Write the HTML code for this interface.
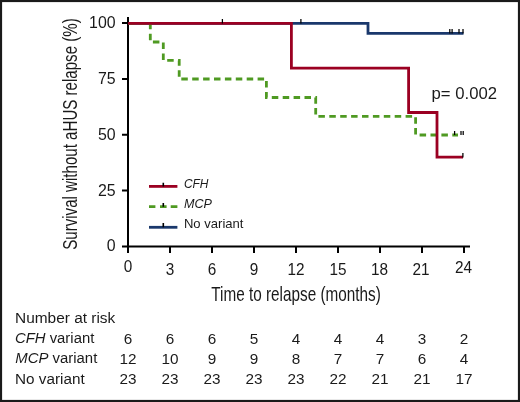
<!DOCTYPE html>
<html><head><meta charset="utf-8">
<style>
html,body{margin:0;padding:0;background:#fff;}
body{width:520px;height:402px;overflow:hidden;}
svg{display:block;will-change:transform;}
text{font-family:"Liberation Sans",sans-serif;fill:#1a1a1a;}
</style></head>
<body>
<svg width="520" height="402" viewBox="0 0 520 402">
<rect x="0" y="0" width="520" height="402" fill="#fff"/>
<rect x="1" y="1" width="518" height="400" fill="none" stroke="#1a1a1a" stroke-width="2.2"/>

<!-- y axis title -->
<text transform="translate(77.1,249.8) rotate(-90)" font-size="20" textLength="231.5" lengthAdjust="spacingAndGlyphs">Survival without aHUS relapse (%)</text>

<!-- y tick labels -->
<g font-size="15.9" text-anchor="end">
<text x="115.6" y="28.0">100</text>
<text x="115.6" y="83.8">75</text>
<text x="115.6" y="139.7">50</text>
<text x="115.6" y="195.5">25</text>
<text x="115.6" y="251.3">0</text>
</g>

<!-- axes -->
<g stroke="#000" stroke-width="2" fill="none">
<path d="M128,17V253"/>
<path d="M127,246.5H470"/>
<path d="M122,23H128M122,78.9H128M122,134.75H128M122,190.6H128M122,246.5H128"/>
<path d="M170,246.5V253M212,246.5V253M254,246.5V253M296,246.5V253M338,246.5V253M380,246.5V253M422,246.5V253M464,246.5V253"/>
</g>

<!-- x tick labels -->
<g font-size="16.5" text-anchor="middle">
<text transform="translate(128,272.2) scale(0.93,1)">0</text>
<text transform="translate(170,274.8) scale(0.93,1)">3</text>
<text transform="translate(212,274.8) scale(0.93,1)">6</text>
<text transform="translate(254,274.8) scale(0.93,1)">9</text>
<text transform="translate(296,274.6) scale(0.93,1)">12</text>
<text transform="translate(338,274.6) scale(0.93,1)">15</text>
<text transform="translate(379.6,274.6) scale(0.93,1)">18</text>
<text transform="translate(421.1,274.6) scale(0.93,1)">21</text>
<text transform="translate(463.6,272.7) scale(0.93,1)">24</text>
</g>

<!-- x axis title -->
<text x="211.3" y="301.1" font-size="19.8" textLength="169.5" lengthAdjust="spacingAndGlyphs">Time to relapse (months)</text>

<!-- curves -->
<g fill="none" stroke-width="2.8" stroke-linejoin="miter" stroke-linecap="butt">
<path stroke="#1a386c" d="M128,23.3H368V33.4H463.5"/>
<path stroke="#4f9a22" stroke-dasharray="6.5 4.4" d="M128,23.3H150.3V42H163.3V60.4H179.2V79H266.4V97.5H315.7V116.3H415.6V135H458"/>
<path stroke="#9b0022" d="M128,23.3H291.4V68.1H408.6V112.5H437V157.2H463"/>
</g>

<!-- censor ticks -->
<g stroke="#000" stroke-width="1.25">
<path d="M222.4,19V23.5M300.9,19V23.5"/>
<path d="M449.8,29V33.5M452.1,29V33.5M459,29V33.5M463,29V33.5"/>
<path d="M454.6,131V135M461,131V135M463.2,131V135"/>
<path d="M462.9,153V157.5"/>
</g>

<!-- p value -->
<text x="431.6" y="98.8" font-size="16.7">p= 0.002</text>

<!-- legend -->
<g fill="none" stroke-width="2.8">
<path stroke="#9b0022" d="M149,186.4H177.4"/>
<path stroke="#4f9a22" d="M149,206.7H155.4M160,206.7H166.6M170.7,206.7H177.4"/>
<path stroke="#1a386c" d="M149,227.3H177.4"/>
</g>
<g stroke="#000" stroke-width="1.6">
<path d="M163.3,182.8V186.5M163.3,203V206.7M163.3,223V227.3"/>
</g>
<g font-size="12.6">
<text x="183.9" y="188.1" font-style="italic" textLength="24.6" lengthAdjust="spacingAndGlyphs">CFH</text>
<text x="183.9" y="208.3" font-style="italic">MCP</text>
<text x="183.9" y="228.4" textLength="59.6" lengthAdjust="spacingAndGlyphs">No variant</text>
</g>

<!-- number at risk -->
<g font-size="14.7">
<text x="15" y="323.2" textLength="100.3" lengthAdjust="spacingAndGlyphs">Number at risk</text>
<text x="15" y="343.4" textLength="79.3" lengthAdjust="spacingAndGlyphs"><tspan font-style="italic">CFH</tspan> variant</text>
<text x="15.3" y="363.4" textLength="82" lengthAdjust="spacingAndGlyphs"><tspan font-style="italic">MCP</tspan> variant</text>
<text x="15" y="383.8" textLength="69.7" lengthAdjust="spacingAndGlyphs">No variant</text>
</g>
<g font-size="15.3" text-anchor="middle">
<text y="343.5"><tspan x="128">6</tspan><tspan x="170">6</tspan><tspan x="212">6</tspan><tspan x="254">5</tspan><tspan x="296">4</tspan><tspan x="338">4</tspan><tspan x="380">4</tspan><tspan x="422">3</tspan><tspan x="464">2</tspan></text>
<text y="363.5"><tspan x="128">12</tspan><tspan x="170">10</tspan><tspan x="212">9</tspan><tspan x="254">9</tspan><tspan x="296">8</tspan><tspan x="338">7</tspan><tspan x="380">7</tspan><tspan x="422">6</tspan><tspan x="464">4</tspan></text>
<text y="383.8"><tspan x="128">23</tspan><tspan x="170">23</tspan><tspan x="212">23</tspan><tspan x="254">23</tspan><tspan x="296">23</tspan><tspan x="338">22</tspan><tspan x="380">21</tspan><tspan x="422">21</tspan><tspan x="464">17</tspan></text>
</g>
</svg>
</body></html>
